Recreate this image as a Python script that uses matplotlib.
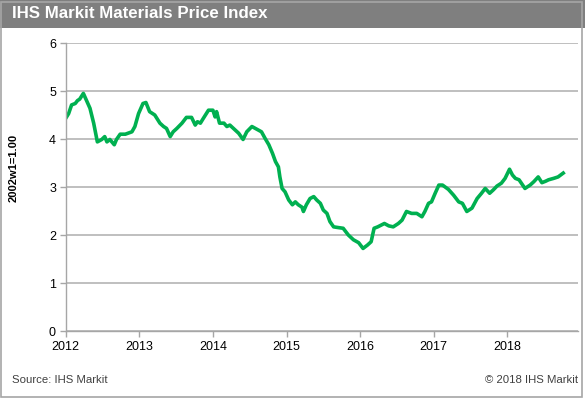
import matplotlib.pyplot as plt
from matplotlib.patches import Rectangle

plt.rcParams['font.family'] = ['Liberation Sans', 'DejaVu Sans']

# index values (decimal year, 2002w1=1.00)
years = [2012.00, 2012.04, 2012.08, 2012.13, 2012.16, 2012.19, 2012.24, 2012.28,
         2012.33, 2012.38, 2012.43, 2012.49, 2012.53, 2012.56, 2012.60, 2012.66,
         2012.69, 2012.74, 2012.81, 2012.90, 2012.94, 2012.99, 2013.05, 2013.09,
         2013.14, 2013.21, 2013.28, 2013.33, 2013.37, 2013.42, 2013.46, 2013.51,
         2013.58, 2013.64, 2013.71, 2013.76, 2013.79, 2013.83, 2013.87, 2013.94,
         2014.00, 2014.03, 2014.05, 2014.09, 2014.15, 2014.19, 2014.23, 2014.28,
         2014.35, 2014.41, 2014.46, 2014.53, 2014.60, 2014.66, 2014.71, 2014.76,
         2014.81, 2014.85, 2014.89, 2014.91, 2014.94, 2014.98, 2015.03, 2015.08,
         2015.12, 2015.16, 2015.21, 2015.23, 2015.27, 2015.32, 2015.37, 2015.41,
         2015.46, 2015.50, 2015.55, 2015.59, 2015.64, 2015.68, 2015.77, 2015.84,
         2015.91, 2015.98, 2016.04, 2016.10, 2016.15, 2016.19, 2016.24, 2016.33,
         2016.39, 2016.45, 2016.52, 2016.57, 2016.63, 2016.70, 2016.77, 2016.84,
         2016.88, 2016.93, 2016.97, 2017.02, 2017.07, 2017.12, 2017.20, 2017.27,
         2017.34, 2017.39, 2017.45, 2017.52, 2017.59, 2017.65, 2017.70, 2017.76,
         2017.81, 2017.86, 2017.92, 2017.97, 2018.03, 2018.07, 2018.11, 2018.16,
         2018.24, 2018.31, 2018.36, 2018.42, 2018.47, 2018.52, 2018.56, 2018.63,
         2018.69, 2018.76]
index = [4.43, 4.53, 4.71, 4.74, 4.80, 4.83, 4.95, 4.81,
         4.64, 4.33, 3.94, 3.99, 4.05, 3.94, 3.99, 3.88,
         3.99, 4.10, 4.10, 4.15, 4.26, 4.53, 4.74, 4.76,
         4.57, 4.50, 4.33, 4.26, 4.22, 4.05, 4.15, 4.22,
         4.33, 4.45, 4.45, 4.29, 4.36, 4.33, 4.43, 4.60,
         4.60, 4.46, 4.57, 4.33, 4.33, 4.26, 4.29, 4.22,
         4.12, 3.99, 4.15, 4.26, 4.20, 4.15, 4.01, 3.88,
         3.70, 3.53, 3.42, 3.21, 2.97, 2.90, 2.73, 2.63,
         2.69, 2.63, 2.58, 2.49, 2.63, 2.76, 2.80, 2.73,
         2.66, 2.52, 2.45, 2.28, 2.17, 2.16, 2.14, 2.00,
         1.90, 1.84, 1.72, 1.79, 1.86, 2.14, 2.17, 2.24,
         2.19, 2.17, 2.24, 2.31, 2.49, 2.45, 2.45, 2.38,
         2.49, 2.66, 2.69, 2.87, 3.04, 3.04, 2.95, 2.83,
         2.69, 2.66, 2.49, 2.56, 2.76, 2.87, 2.97, 2.87,
         2.94, 3.02, 3.08, 3.18, 3.37, 3.25, 3.18, 3.15,
         2.97, 3.04, 3.11, 3.21, 3.09, 3.12, 3.15, 3.18,
         3.21, 3.29]

year_ticks = [2012, 2013, 2014, 2015, 2016, 2017, 2018]
y_ticks = [0, 1, 2, 3, 4, 5, 6]

W, H = 585, 398
fig = plt.figure(figsize=(W / 100, H / 100), dpi=100)

# title bar and frame
fig.patches.append(Rectangle((0, 1 - 28 / H), 1, 28 / H, transform=fig.transFigure,
                             facecolor='#7f7f7f', edgecolor='none', zorder=0))
fig.patches.append(Rectangle((0.5 / W, 1.5 / H), (W - 4) / W, (H - 3) / H,
                             transform=fig.transFigure, facecolor='none',
                             edgecolor='#a6a6a6', linewidth=1.2, zorder=1))
fig.text(12 / W, 1 - 14 / H, 'IHS Markit Materials Price Index', color='white',
         fontsize=12.2, fontweight='bold', va='center', ha='left')

ax = fig.add_axes([65.7 / W, 1 - 331 / H, (578 - 65.7) / W, (331 - 43) / H])
ax.plot(years, index, color='#00b050', linewidth=2.6, solid_joinstyle='round')

ax.set_xlim(2012, 2012 + (578 - 65.7) / 73.6)
ax.set_ylim(0, 6)
ax.set_xticks(year_ticks)
ax.set_yticks(y_ticks)
ax.tick_params(labelsize=9, length=4, color='#a6a6a6', width=1, pad=3)
ax.yaxis.grid(True, color='#bfbfbf', linewidth=1.4)
ax.set_axisbelow(True)
for side in ['top', 'right']:
    ax.spines[side].set_visible(False)
for side in ['left', 'bottom']:
    ax.spines[side].set_color('#a6a6a6')
    ax.spines[side].set_linewidth(1)

fig.text(14 / W, 1 - 167.5 / H, '2002w1=1.00', fontsize=8, fontweight='bold',
         rotation=90, va='center', ha='center')

fig.text(12 / W, 1 - 380 / H, 'Source: IHS Markit', fontsize=8.2, color='#404040',
         va='center', ha='left')
fig.text(578 / W, 1 - 380 / H, '\u00a9 2018 IHS Markit', fontsize=8.2,
         color='#404040', va='center', ha='right')

fig.savefig('out.png', dpi=100)
